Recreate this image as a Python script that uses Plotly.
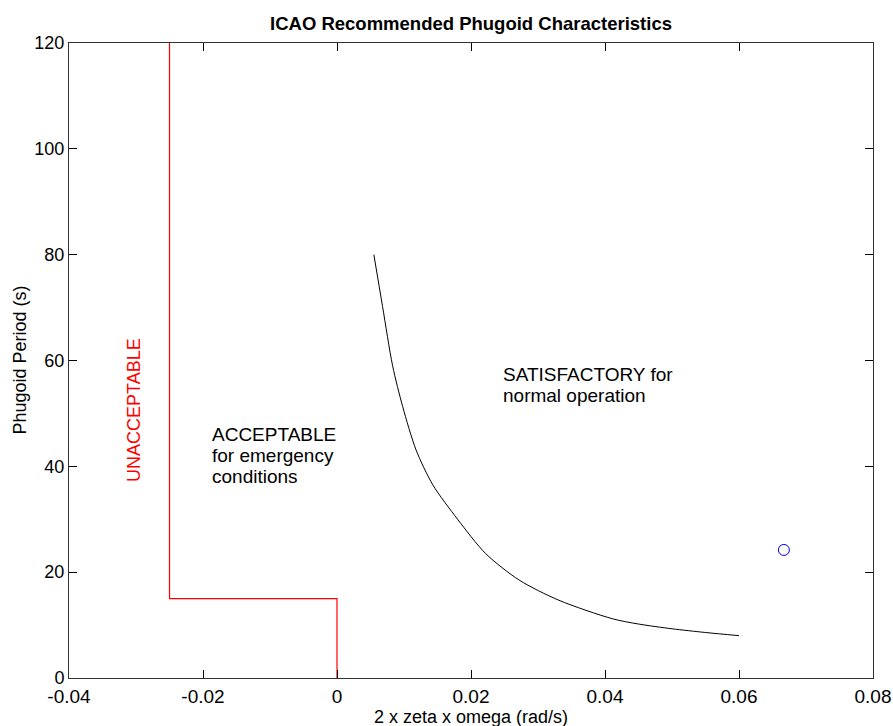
import plotly.graph_objects as go

# Boundary between "satisfactory" and "acceptable" phugoid regions
boundary_x = [0.0055, 0.0068, 0.0083, 0.0098, 0.0118, 0.0143, 0.0180, 0.0222,
              0.0272, 0.0331, 0.0411, 0.0450, 0.0500, 0.0550, 0.0600]
boundary_t = [80.0, 70.2, 59.0, 51.3, 43.1, 36.5, 30.0, 23.5,
              18.5, 14.7, 11.2, 10.2, 9.3, 8.6, 8.0]

# Unacceptable region limit
limit_x = [-0.025, -0.025, 0.0, 0.0]
limit_t = [120, 15, 15, 0]

# Aircraft phugoid operating point
point_x = [0.0667]
point_t = [24.2]

x_ticks = [-0.04, -0.02, 0, 0.02, 0.04, 0.06, 0.08]
x_tick_labels = ["-0.04", "-0.02", "0", "0.02", "0.04", "0.06", "0.08"]
y_ticks = [0, 20, 40, 60, 80, 100, 120]

# Region labels: (x, y, text) for each line
acceptable_lines = [(-0.019, 46.0, "ACCEPTABLE"),
                    (-0.019, 42.0, "for emergency"),
                    (-0.019, 38.0, "conditions")]
satisfactory_lines = [(0.0245, 57.4, "SATISFACTORY for"),
                      (0.0245, 53.3, "normal operation")]

FONT = "Liberation Sans, Arial, sans-serif"
FS = 19

fig = go.Figure()
fig.add_trace(go.Scatter(x=boundary_x, y=boundary_t, mode="lines",
                         line=dict(color="black", width=1, shape="spline",
                                   smoothing=0.8),
                         showlegend=False))
fig.add_trace(go.Scatter(x=limit_x, y=limit_t, mode="lines",
                         line=dict(color="#ff0000", width=1.2), showlegend=False))
fig.add_trace(go.Scatter(x=point_x, y=point_t, mode="markers",
                         marker=dict(symbol="circle-open", size=11,
                                     color="#0000ff", line=dict(width=1)),
                         showlegend=False))

fig.add_annotation(x=-0.0302, y=50.6, text="UNACCEPTABLE", textangle=-90,
                   showarrow=False, font=dict(family=FONT, size=18, color="#ff0000"))
for lx, ly, txt in acceptable_lines + satisfactory_lines:
    fig.add_annotation(x=lx, y=ly, xanchor="left", yanchor="middle", text=txt,
                       showarrow=False,
                       font=dict(family=FONT, size=FS, color="black"))

# Axis titles
fig.add_annotation(xref="paper", yref="paper", x=0.5, y=0, yanchor="middle",
                   yshift=-39, text="2 x zeta x omega (rad/s)", showarrow=False,
                   font=dict(family=FONT, size=18, color="black"))
fig.add_annotation(xref="paper", yref="paper", x=0, y=0.5, xanchor="center",
                   xshift=-50, textangle=-90, text="Phugoid Period (s)",
                   showarrow=False, font=dict(family=FONT, size=18, color="black"))

axis_common = dict(showgrid=False, zeroline=False, showline=True,
                   linecolor="#333333", linewidth=1, mirror="allticks",
                   ticks="inside", ticklen=8, tickcolor="black", tickwidth=1,
                   automargin=False)

fig.update_layout(
    width=893, height=726,
    paper_bgcolor="white", plot_bgcolor="white",
    margin=dict(l=69, r=20, t=43, b=48),
    title=dict(text="<b>ICAO Recommended Phugoid Characteristics</b>",
               x=(69 + 873) / 2 / 893, xanchor="center", y=1 - 24 / 726,
               yanchor="middle", font=dict(family=FONT, size=18.5, color="black")),
    xaxis=dict(range=[-0.04, 0.08], tickvals=x_ticks, ticktext=x_tick_labels,
               ticklabelstandoff=1,
               tickfont=dict(family=FONT, size=FS, color="black"),
               **axis_common),
    yaxis=dict(range=[0, 120], tickvals=y_ticks,
               tickfont=dict(family=FONT, size=18, color="black"),
               **axis_common),
)

fig.write_html("out.html")
